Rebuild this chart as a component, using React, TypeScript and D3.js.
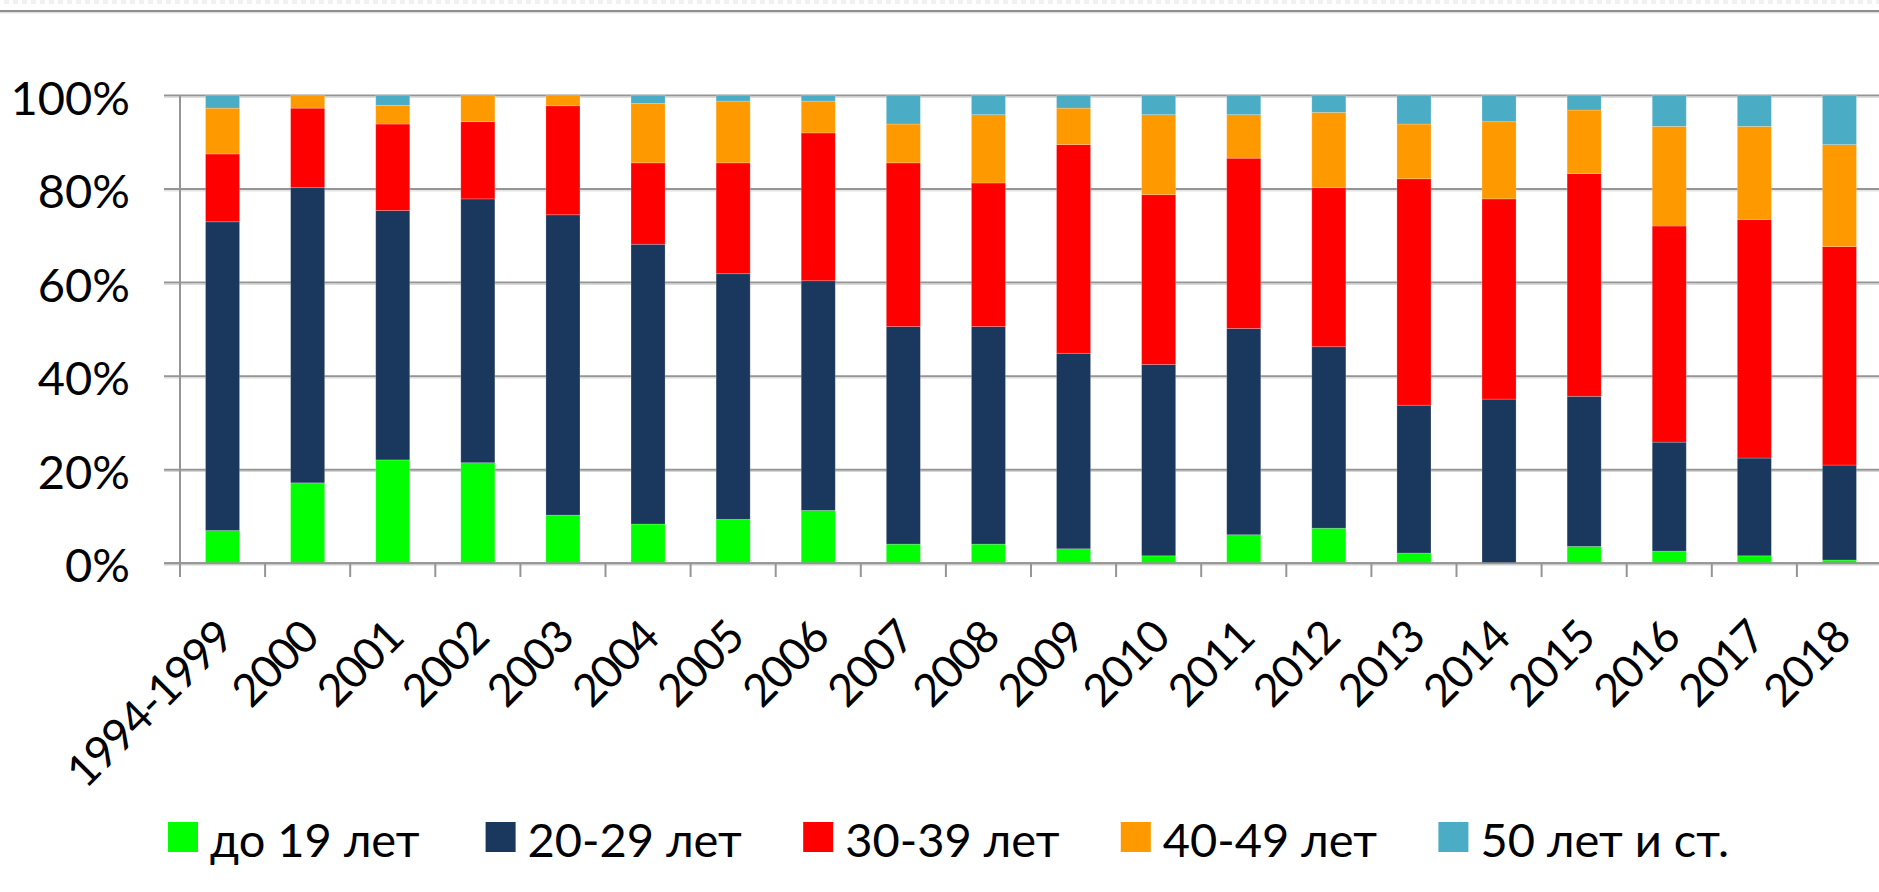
import React from "react";
import * as d3 from "d3";

const categories = ["1994-1999", "2000", "2001", "2002", "2003", "2004", "2005", "2006", "2007", "2008", "2009", "2010", "2011", "2012", "2013", "2014", "2015", "2016", "2017", "2018"];
const seriesNames = ["до 19 лет", "20-29 лет", "30-39 лет", "40-49 лет", "50 лет и ст."];
const under19 = [7.0, 17.2, 22.1, 21.5, 10.3, 8.4, 9.4, 11.3, 4.1, 4.1, 3.1, 1.6, 6.1, 7.5, 2.2, 0.0, 3.6, 2.6, 1.6, 0.7];
const age20to29 = [66.0, 63.1, 53.3, 56.4, 64.2, 59.8, 52.5, 49.1, 46.5, 46.5, 41.8, 40.9, 44.1, 38.8, 31.6, 35.1, 32.1, 23.3, 20.9, 20.3];
const age30to39 = [14.5, 17.0, 18.5, 16.5, 23.3, 17.4, 23.7, 31.6, 35.0, 30.7, 44.6, 36.3, 36.4, 34.0, 48.4, 42.8, 47.6, 46.2, 51.0, 46.7];
const age40to49 = [9.8, 2.7, 4.0, 5.6, 2.2, 12.7, 13.2, 6.8, 8.3, 14.6, 7.8, 17.1, 9.3, 16.1, 11.7, 16.5, 13.6, 21.3, 19.9, 21.8];
const age50plus = [2.7, 0.0, 2.1, 0.0, 0.0, 1.7, 1.2, 1.2, 6.1, 4.1, 2.7, 4.1, 4.1, 3.6, 6.1, 5.6, 3.1, 6.6, 6.6, 10.5];
const yTicks = [0, 0.2, 0.4, 0.6, 0.8, 1.0];
const colors = ["#00FF00", "#1A375E", "#FF0000", "#FF9900", "#4BACC6"];

const W = 1879;
const H = 892;
const FONT = "Lato, 'Open Sans', sans-serif";

export default function App() {
  const seriesValues = [under19, age20to29, age30to39, age40to49, age50plus];
  const rows = categories.map((c, i) => {
    const r: any = { cat: c };
    seriesNames.forEach((s, k) => (r[s] = seriesValues[k][i]));
    return r;
  });
  const stacked = d3.stack().keys(seriesNames).offset(d3.stackOffsetExpand)(rows);

  const left = 180;
  const step = 85.1;
  const x = d3.scaleBand().domain(categories).range([left, left + step * categories.length]).paddingInner(0).paddingOuter(0);
  const y = d3.scaleLinear().domain([0, 1]).range([563.3, 95.5]);
  const barW = x.bandwidth() * 0.4;
  const fmt = d3.format(".0%");

  const dots = d3.range(0, W, 9);

  return (
    <svg width={W} height={H} style={{ position: "absolute", left: 0, top: 0, background: "#fff" }} fontFamily={FONT}>
      <rect x={0} y={0} width={W} height={H} fill="#fff" />
      {/* top decoration */}
      {dots.map((d) => (
        <rect key={d} x={d + 4} y={0} width={5} height={4} fill="#f1f1f1" />
      ))}
      <line x1={0} x2={W} y1={11} y2={11} stroke="#8e8e8e" strokeWidth={2} />
      <line x1={0} x2={W} y1={12.8} y2={12.8} stroke="#d2d2d2" strokeWidth={1} />

      {/* gridlines */}
      {yTicks.map((t) => (
        <g key={t}>
          <line x1={left - 16} x2={W} y1={y(t)} y2={y(t)} stroke="#959595" strokeWidth={2} />
          <line x1={left - 16} x2={W} y1={y(t) + 1.8} y2={y(t) + 1.8} stroke="#d6d6d6" strokeWidth={1} />
        </g>
      ))}

      {/* bars */}
      {stacked.map((s, k) => (
        <g key={s.key} fill={colors[k]}>
          {s.map((d, i) => {
            const h = y(d[0]) - y(d[1]);
            if (h <= 0.01) return null;
            return (
              <rect
                key={i}
                x={(x(categories[i]) as number) + (x.bandwidth() - barW) / 2}
                y={y(d[1])}
                width={barW}
                height={h}
                stroke="rgba(255,255,255,0.25)"
                strokeWidth={0.8}
              />
            );
          })}
        </g>
      ))}

      {/* axes */}
      <line x1={left} x2={left} y1={y(1)} y2={577} stroke="#959595" strokeWidth={2} />
      <line x1={left - 16} x2={W} y1={y(0)} y2={y(0)} stroke="#959595" strokeWidth={2} />
      {categories.map((c) => (
        <line key={c} x1={x(c) as number} x2={x(c) as number} y1={y(0)} y2={577} stroke="#959595" strokeWidth={2} />
      ))}

      {/* y labels */}
      {yTicks.map((t) => (
        <text key={t} x={130} y={y(t) + 1} textAnchor="end" dominantBaseline="central" fontSize={47} fill="#000">
          {fmt(t)}
        </text>
      ))}

      {/* x labels */}
      {categories.map((c) => {
        const cx = (x(c) as number) + x.bandwidth() / 2 + 13;
        return (
          <text key={c} transform={`translate(${cx},${640}) rotate(-45)`} textAnchor="end" fontSize={45} letterSpacing={-1.5} fill="#000">
            {c}
          </text>
        );
      })}

      {/* legend */}
      {seriesNames.map((s, k) => {
        const lx = 168 + k * 317.6;
        return (
          <g key={s}>
            <rect x={lx} y={822} width={30} height={30} fill={colors[k]} />
            <text x={lx + 42} y={857} fontSize={47} fill="#000">
              {s}
            </text>
          </g>
        );
      })}
    </svg>
  );
}
